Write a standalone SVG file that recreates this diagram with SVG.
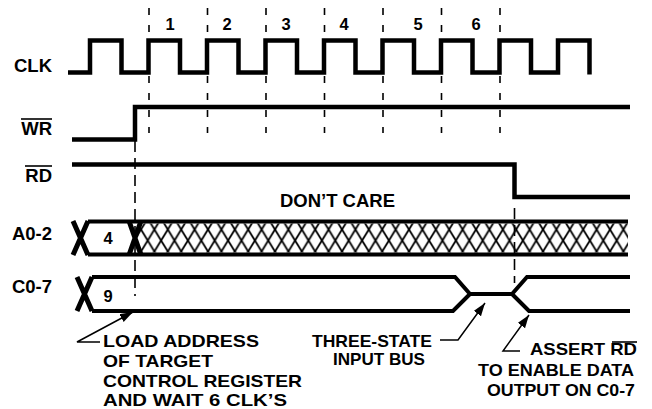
<svg xmlns="http://www.w3.org/2000/svg" width="652" height="409" viewBox="0 0 652 409">
<defs>
<style>
.sig{fill:none;stroke:#000;stroke-width:4.5;stroke-linejoin:miter}
.bus{fill:none;stroke:#000;stroke-width:4;stroke-linejoin:miter}
.x{fill:none;stroke:#000;stroke-width:5}
.dash{fill:none;stroke:#000;stroke-width:1.6;stroke-dasharray:7 10}
.dash2{fill:none;stroke:#000;stroke-width:1.6;stroke-dasharray:11 6}
.arr{fill:none;stroke:#000;stroke-width:1.5;marker-end:url(#ah)}
.ov{stroke:#000;stroke-width:1.6}
text{font-family:"Liberation Sans",Arial,Helvetica,sans-serif;font-weight:bold;fill:#000}
.lbl{font-size:18.5px;text-anchor:end}
.num{font-size:16.5px;text-anchor:middle}
.ann{font-size:17px}
</style>
<marker id="ah" markerUnits="userSpaceOnUse" markerWidth="14" markerHeight="10" refX="13" refY="4.5" orient="auto">
<path d="M0,0 L13,4.5 L0,9 z" fill="#000"/>
</marker>
<pattern id="hatch" patternUnits="userSpaceOnUse" x="141" y="229.5" width="13.4" height="22">
<path d="M-6.7,-11 L20.1,33 M20.1,-11 L-6.7,33" stroke="#000" stroke-width="1.8" fill="none"/>
</pattern>
</defs>
<rect width="652" height="409" fill="#fff"/>

<g id="labels">
<text class="lbl" x="52" y="72">CLK</text>
<text class="lbl" x="52" y="135">WR</text>
<line class="ov" x1="21" y1="119" x2="52" y2="119"/>
<text class="lbl" x="52" y="182">RD</text>
<line class="ov" x1="25" y1="166" x2="52" y2="166"/>
<text class="lbl" x="52" y="240">A0-2</text>
<text class="lbl" x="52" y="293">C0-7</text>
</g>

<g id="cycle-numbers">
<text class="num" x="170" y="30">1</text>
<text class="num" x="227" y="30">2</text>
<text class="num" x="286" y="30">3</text>
<text class="num" x="344" y="30">4</text>
<text class="num" x="418" y="30">5</text>
<text class="num" x="476" y="30">6</text>
</g>

<g id="clk">
<path class="sig" d="M68,72.5 H90 V40.5 H121.5 V72.5 H148.5 V40.5 H180 V72.5 H207 V40.5 H238.5 V72.5 H265.5 V40.5 H297 V72.5 H324 V40.5 H355.5 V72.5 H382.5 V40.5 H414 V72.5 H441 V40.5 H472.5 V72.5 H499.5 V40.5 H531 V72.5 H558 V40.5 H589.5 V74.5"/>
</g>

<g id="wr">
<path class="sig" d="M72,139.5 H135 V107 H630"/>
</g>

<g id="rd">
<path class="sig" d="M72,164.5 H514.5 V197 H630"/>
</g>

<g id="a02">
<rect x="138" y="223.5" width="490" height="29" fill="url(#hatch)"/>
<path class="bus" d="M88,221.5 H628 M88,254.5 H628"/>
<path class="x" d="M73,221 L88,255 M73,255 L88,221 M129,221 L141,255 M129,255 L141,221"/>
<text class="num" x="108" y="244">4</text>
<text x="280" y="207" font-size="18.5" textLength="115" lengthAdjust="spacingAndGlyphs">DON’T CARE</text>
</g>

<g id="c07">
<path class="bus" d="M92,277 H455 L470,294 H512 L527,277 H630 M92,311 H453 L470,294 M512,294 L529,311 H630"/>
<path class="x" d="M77,277 L92,311 M77,311 L92,277"/>
<text class="num" x="108" y="302">9</text>
</g>

<g id="connectors">
<line class="dash" x1="149" y1="8" x2="149" y2="133"/>
<line class="dash" x1="207.5" y1="8" x2="207.5" y2="133"/>
<line class="dash" x1="266" y1="8" x2="266" y2="133"/>
<line class="dash" x1="324.5" y1="8" x2="324.5" y2="133"/>
<line class="dash" x1="383" y1="8" x2="383" y2="133"/>
<line class="dash" x1="441.5" y1="8" x2="441.5" y2="133"/>
<line class="dash" x1="500" y1="8" x2="500" y2="133"/>
<line class="dash2" x1="135" y1="141" x2="135" y2="296"/>
<line class="dash2" x1="514.5" y1="208" x2="514.5" y2="283"/>
<path class="arr" d="M100,342 H77 L133,312"/>
<path class="arr" d="M440,340 H458 L485,303"/>
<path class="arr" d="M520,351 H503 L529,315"/>
</g>

<g id="annotations">
<text class="ann" x="103" y="347" textLength="156" lengthAdjust="spacingAndGlyphs">LOAD ADDRESS</text>
<text class="ann" x="103" y="367" textLength="110" lengthAdjust="spacingAndGlyphs">OF TARGET</text>
<text class="ann" x="103" y="386.5" textLength="199" lengthAdjust="spacingAndGlyphs">CONTROL REGISTER</text>
<text class="ann" x="103" y="406" textLength="184" lengthAdjust="spacingAndGlyphs">AND WAIT 6 CLK’S</text>
<text class="ann" x="312" y="347" textLength="120" lengthAdjust="spacingAndGlyphs">THREE-STATE</text>
<text class="ann" x="333" y="365" textLength="92" lengthAdjust="spacingAndGlyphs">INPUT BUS</text>
<text class="ann" x="530" y="355" textLength="107" lengthAdjust="spacingAndGlyphs">ASSERT RD</text>
<line class="ov" x1="612" y1="342" x2="637" y2="342"/>
<text class="ann" x="478" y="376" textLength="156" lengthAdjust="spacingAndGlyphs">TO ENABLE DATA</text>
<text class="ann" x="487" y="396" textLength="148" lengthAdjust="spacingAndGlyphs">OUTPUT ON C0-7</text>
</g>
</svg>
